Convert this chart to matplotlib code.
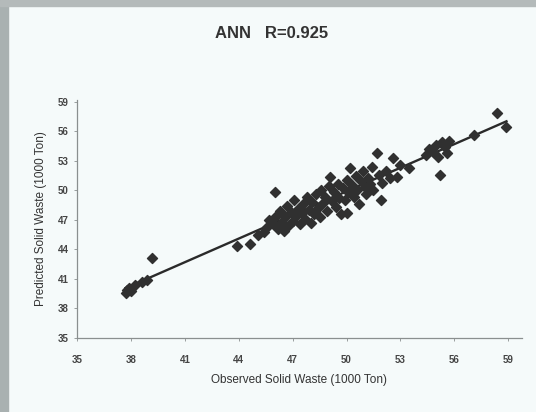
import numpy as np
import matplotlib.pyplot as plt
from matplotlib.patches import Rectangle

observado = [37.7, 37.8, 37.9, 38.0, 38.2, 38.6, 38.9, 39.2,
             43.9, 44.6, 45.1, 45.4, 45.6,
             45.7, 45.9, 46.0, 46.1, 46.2, 46.3, 46.4, 46.5, 46.6, 46.7, 46.8, 46.9,
             47.0, 47.1, 47.2, 47.3, 47.4, 47.5,
             47.6, 47.7, 47.8, 47.9, 48.0, 48.1, 48.2, 48.3, 48.4, 48.5, 48.6, 48.7,
             48.8, 48.9, 49.0, 49.1, 49.2, 49.3, 49.4, 49.5, 49.6, 49.7, 49.8, 49.9,
             50.0, 50.0,
             50.1, 50.2, 50.3, 50.4, 50.5, 50.6, 50.7, 50.8, 50.9, 51.0, 51.1, 51.2,
             51.3, 51.4, 51.5, 51.7, 51.8, 51.9, 52.0, 52.2, 52.4, 52.6, 52.8, 53.0, 53.5,
             54.4, 54.6, 54.8, 55.0, 55.1, 55.2, 55.3, 55.5, 55.7, 55.6, 57.1, 58.4, 58.9]
predicho = [39.6, 39.9, 40.1, 39.8, 40.4, 40.7, 40.9, 43.1,
            44.4, 44.6, 45.5, 45.8, 46.3,
            47.0, 46.6, 49.8, 47.4, 46.1, 47.9, 46.8, 45.9, 47.3, 48.4, 46.5, 47.8,
            46.9, 49.0, 47.4, 48.1, 46.6, 47.7,
            48.6, 47.1, 49.3, 48.0, 46.7, 48.8, 47.6, 49.6, 48.2, 47.3, 50.0, 48.7,
            49.3, 47.9, 50.4, 51.4, 48.9, 49.8, 48.3, 50.6, 49.2, 47.6, 50.2, 49.0,
            47.7, 51.1,
            49.8, 52.3, 50.5, 49.3, 51.5, 50.0, 48.6, 51.0, 52.0, 50.3, 49.6, 51.3,
            50.7, 52.4, 50.0, 53.8, 51.6, 49.0, 50.8, 52.0, 51.3, 53.3, 51.4, 52.6, 52.3,
            53.6, 54.2, 53.9, 54.6, 53.4, 51.6, 54.9, 54.4, 55.0, 53.8, 55.6, 57.9, 56.4]

ticks = [35, 38, 41, 44, 47, 50, 53, 56, 59]

x = np.array(observado)
y = np.array(predicho)

# recta de regresion
m, b = np.polyfit(x, y, 1)
xl = np.array([x.min(), x.max()])

fig = plt.figure(figsize=(5.36, 4.12), dpi=100)
fig.patch.set_facecolor('#f5fafa')
# marco gris de la captura
fig.patches.append(Rectangle((0, 0), 8 / 536, 1, transform=fig.transFigure,
                             color='#a9b1b1', zorder=0))
fig.patches.append(Rectangle((0, 1 - 6 / 412), 1, 6 / 412, transform=fig.transFigure,
                             color='#b4baba', zorder=0))

ax = fig.add_axes([0.1437, 0.1796, 0.830, 0.578])
ax.set_facecolor('#f5fafa')

ax.plot(xl, m * xl + b, color='#2a2a2a', lw=1.7, zorder=2)
ax.scatter(x, y, marker='D', s=26, color='#303030', edgecolors='#303030', zorder=3)

ax.set_xlim(35, 59.76)
ax.set_ylim(35, 59.2)
ax.set_xticks(ticks)
ax.set_yticks(ticks)
for s in ['top', 'right']:
    ax.spines[s].set_visible(False)
for s in ['left', 'bottom']:
    ax.spines[s].set_color('#8a8f8f')
    ax.spines[s].set_linewidth(0.9)
ax.tick_params(colors='#8a8f8f', labelcolor='#444444', labelsize=7, length=2, width=0.6)
ax.tick_params(axis='x', pad=10)
ax.tick_params(axis='y', pad=4)

fnt = 'Liberation Sans'
for lbl in ax.get_xticklabels() + ax.get_yticklabels():
    lbl.set_fontfamily(fnt)
    lbl.set_fontweight('bold')
ax.set_xlabel('Observed Solid Waste (1000 Ton)', fontsize=8.5, family=fnt, color='#333333', labelpad=7)
ax.set_ylabel('Predicted Solid Waste (1000 Ton)', fontsize=8.5, family=fnt, color='#333333', labelpad=8)
fig.text(0.506, 0.918, 'ANN   R=0.925', ha='center', va='center', fontsize=12,
         fontweight='bold', family=fnt, color='#333333')

plt.savefig('out.png', dpi=100, facecolor=fig.get_facecolor())
